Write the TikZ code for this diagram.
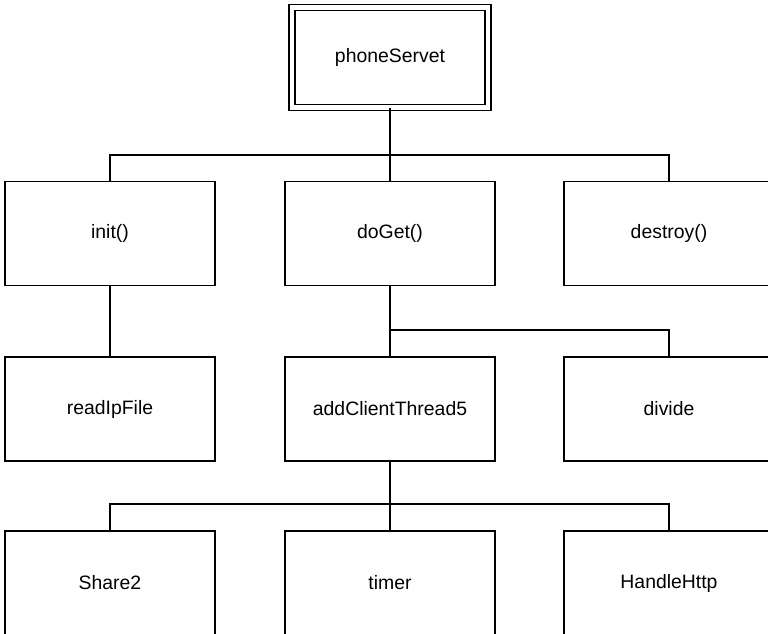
\documentclass[tikz,border=0pt]{standalone}
\usepackage{fontspec}
\setmainfont{Liberation Sans}
\begin{document}
\begin{tikzpicture}[x=1pt,y=-1pt,line width=1.6pt,
  fn/.style={draw,minimum width=210pt,minimum height=104pt,font=\fontsize{19.4}{23}\selectfont,inner sep=0pt}]
  \useasboundingbox (0,0) rectangle (768,633);
  \clip (0,0) rectangle (768,633);
  % root
  \node[fn,double,double distance=4.4pt,minimum width=196pt,minimum height=100pt] (root) at (390,57.5) {phoneServet};
  % the three rows
  \foreach \n/\x/\y/\t in {init/110/233.6/init(), doget/390/233.6/doGet(), destroy/669/233.6/destroy(),
      readip/110/409/readIpFile, addclient/390/409/addClientThread5, divide/669/409/divide,
      share/110/583/Share2, timer/390/583/timer, handle/669/583/HandleHttp} {
    \node[fn] (\n) at (\x,\y) {\t};
  }
  \coordinate (bus1) at (390,155);
  \coordinate (bus2) at (390,330);
  \coordinate (bus3) at (390,504);
  \draw (root.south) -- (bus1) -| (init.north);
  \draw (bus1) -| (destroy.north);
  \draw (bus1) -- (doget.north);
  \draw (init.south) -- (readip.north);
  \draw (doget.south) -- (addclient.north);
  \draw (bus2) -| (divide.north);
  \draw (addclient.south) -- (bus3) -| (share.north);
  \draw (bus3) -| (handle.north);
  \draw (bus3) -- (timer.north);
\end{tikzpicture}
\end{document}
